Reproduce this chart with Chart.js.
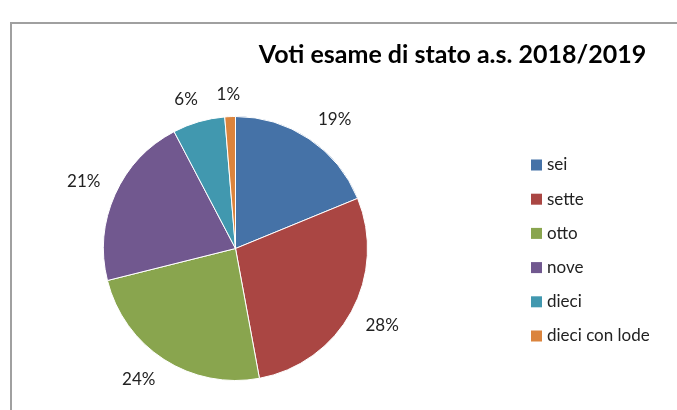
<!DOCTYPE html>
<html>
<head>
<meta charset="utf-8">
<script src="https://cdn.jsdelivr.net/npm/chart.js@4"></script>
<style>
    html, body { margin: 0; padding: 0; background: #fff; overflow: hidden; }
    #wrap { position: relative; width: 677px; height: 410px; }
    #frame {
        position: absolute; left: 10px; top: 22px; width: 700px; height: 420px;
        border-top: 2px solid #a0a0a0; border-left: 2px solid #a0a0a0;
    }
    #chart { position: absolute; left: 0; top: 0; }
</style>
</head>
<body>
<div id="wrap">
    <div id="frame"></div>
    <canvas id="chart" width="677" height="410"></canvas>
</div>
<script>
// Voti esame di stato - data
const titleText = 'Voti esame di stato a.s. 2018/2019';
const categories = ['sei', 'sette', 'otto', 'nove', 'dieci', 'dieci con lode'];
const shares = [18.8, 28.3, 24.0, 21.2, 6.4, 1.3];
const sliceColors = ['#4572A7', '#AA4643', '#89A54E', '#71588F', '#4198AF', '#DB843D'];

const FONT = 'Lato';

// percent labels outside the slices + title + legend
const decorPlugin = {
    id: 'decor',
    afterDatasetsDraw(chart) {
        const ctx = chart.ctx;
        const meta = chart.getDatasetMeta(0);
        const values = chart.data.datasets[0].data;
        const total = values.reduce((a, b) => a + b, 0);

        ctx.save();
        ctx.fillStyle = '#222';
        ctx.font = '17px ' + FONT;
        ctx.textAlign = 'center';
        ctx.textBaseline = 'middle';
        meta.data.forEach((arc, i) => {
            const label = Math.round(values[i] / total * 100) + '%';
            const mid = (arc.startAngle + arc.endAngle) / 2;
            const ux = Math.cos(mid);
            const uy = Math.sin(mid);
            const k = arc.outerRadius + 16;
            const halfW = ctx.measureText(label).width / 2;
            const halfH = 6.5;
            const s = v => Math.max(-1, Math.min(1, v / 0.4));
            const x = arc.x + k * ux + halfW * s(ux);
            const y = arc.y + k * uy + halfH * s(uy);
            ctx.fillText(label, x, y);
        });

        // title
        ctx.font = 'bold 25px ' + FONT;
        ctx.fillStyle = '#000';
        ctx.textBaseline = 'alphabetic';
        ctx.fillText(chart.options.plugins.decor.title, 452.5, 63);

        // legend
        ctx.font = '17px ' + FONT;
        ctx.textAlign = 'left';
        ctx.textBaseline = 'middle';
        chart.data.labels.forEach((name, i) => {
            const cy = 165 + i * 34.2;
            ctx.fillStyle = chart.data.datasets[0].backgroundColor[i];
            ctx.fillRect(531, cy - 5.5, 11, 11);
            ctx.fillStyle = '#222';
            ctx.fillText(name, 547, cy);
        });
        ctx.restore();
    }
};

const chart = new Chart(document.getElementById('chart'), {
    type: 'pie',
    data: {
        labels: categories,
        datasets: [{
            data: shares,
            backgroundColor: sliceColors,
            borderColor: '#fff',
            borderWidth: 1,
            hoverOffset: 0
        }]
    },
    options: {
        responsive: false,
        animation: false,
        layout: {
            padding: { left: 103, top: 116, right: 309, bottom: 29 }
        },
        plugins: {
            legend: { display: false },
            tooltip: { enabled: false },
            decor: { title: titleText }
        }
    },
    plugins: [decorPlugin]
});
</script>
</body>
</html>
